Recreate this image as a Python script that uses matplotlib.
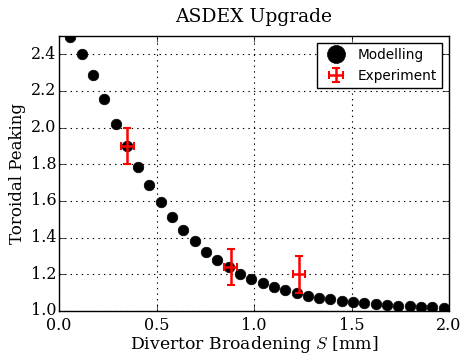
import matplotlib
matplotlib.use("Agg")
import matplotlib.pyplot as plt

plt.style.use("classic")

# Modelling data
model_x = [0.058, 0.116, 0.174, 0.232, 0.290, 0.348, 0.406, 0.464, 0.522, 0.580,
           0.638, 0.696, 0.754, 0.812, 0.870, 0.928, 0.986, 1.044, 1.102, 1.160,
           1.218, 1.276, 1.334, 1.392, 1.450, 1.508, 1.566, 1.624, 1.682, 1.740,
           1.798, 1.856, 1.914, 1.972]
model_y = [2.495, 2.404, 2.286, 2.154, 2.021, 1.901, 1.786, 1.685, 1.594, 1.512,
           1.441, 1.380, 1.323, 1.278, 1.238, 1.202, 1.174, 1.150, 1.130, 1.113,
           1.097, 1.084, 1.073, 1.064, 1.056, 1.049, 1.044, 1.038, 1.033, 1.029,
           1.026, 1.022, 1.020, 1.018]

# Experiment data
exp_x = [0.35, 0.88, 1.23]
exp_y = [1.90, 1.24, 1.20]
exp_xerr = [0.033, 0.034, 0.032]
exp_yerr = [0.10, 0.10, 0.10]

xticks = [0.0, 0.5, 1.0, 1.5, 2.0]
yticks = [1.0, 1.2, 1.4, 1.6, 1.8, 2.0, 2.2, 2.4]

fig = plt.figure(figsize=(4.61, 3.54), dpi=100, facecolor="white")
ax = fig.add_axes([0.128, 0.1215, 0.846, 0.777])
ax.set_facecolor("white")

ax.plot(model_x, model_y, "o", color="black", markersize=7.6, markeredgecolor="black",
        label="Modelling", zorder=2)
ax.errorbar(exp_x, exp_y, xerr=exp_xerr, yerr=exp_yerr, fmt="none", ecolor="red",
            elinewidth=1.8, capsize=3, capthick=1.5, label="Experiment", zorder=3)

ax.set_xlim(0.0, 2.0)
ax.set_ylim(1.0, 2.5)
ax.set_xticks(xticks)
ax.set_yticks(yticks)
ax.grid(True, color="black", linestyle=":", linewidth=0.8)
ax.tick_params(axis="y", pad=2)
ax.tick_params(axis="x", pad=4)

serif = "DejaVu Serif"
for lbl in ax.get_xticklabels() + ax.get_yticklabels():
    lbl.set_family(serif)
    lbl.set_fontsize(11.5)

ax.set_title("ASDEX Upgrade", family=serif, fontsize=13.5, pad=10)
ax.set_xlabel("Divertor Broadening $S$ [mm]", family=serif, fontsize=12.4, labelpad=0)
ax.set_ylabel("Toroidal Peaking", family=serif, fontsize=12.0, labelpad=3)

leg = ax.legend(loc="upper right", numpoints=1, markerscale=1.7, fontsize=9.8,
                frameon=True, fancybox=False, borderpad=0.4, handletextpad=0.6)
leg.get_frame().set_edgecolor("black")
for t in leg.get_texts():
    t.set_family("DejaVu Sans")

fig.savefig("out.png", dpi=100, facecolor="white")
